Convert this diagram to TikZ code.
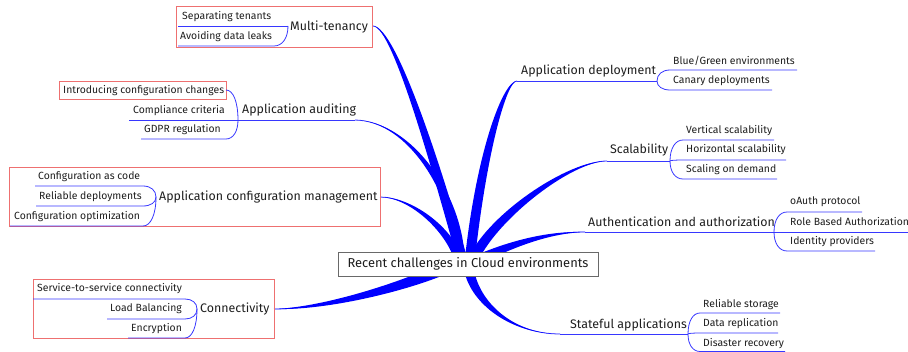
\documentclass[tikz,border=0pt]{standalone}
\usepackage{fontspec}
\setmainfont{Fira Sans}
\usetikzlibrary{calc}
\definecolor{edge}{RGB}{0,0,255}
\definecolor{twigblue}{RGB}{55,55,255}
\definecolor{frame}{RGB}{238,112,112}
\definecolor{rootframe}{RGB}{105,105,105}
\definecolor{ink}{RGB}{30,30,30}
\tikzset{
  twig/.style={draw=twigblue, line width=0.8pt},
  branch/.style={fill=edge},
  leaf/.style={anchor=west, inner sep=0pt, text=ink, font=\fontsize{10.4}{11}\selectfont},
  topic/.style={anchor=west, inner sep=0pt, text=ink, font=\fontsize{12.4}{13}\selectfont},
  group/.style={draw=frame, line width=0.7pt, inner sep=0pt},
  rootbox/.style={draw=rootframe, fill=white, line width=0.7pt, text=ink,
    minimum width=260pt, minimum height=24pt, inner sep=0pt, font=\fontsize{12.9}{14}\selectfont},
}
% tapered main branch: root point, first control, second control, end point, half width
\newcommand\mainbranch[5]{%
  \path #1 coordinate (tR) #2 coordinate (tA) #3 coordinate (tB) #4 coordinate (tE);
  \path ($(tR)!#5!90:(tA)$) coordinate (tP) ($(tR)!#5!-90:(tA)$) coordinate (tM);
  \draw[twig] (tR) .. controls (tA) and (tB) .. (tE);
  \fill[branch] (tP) .. controls ($(tA)+(tP)-(tR)$) and ($(tB)+0.35*(tP)-0.35*(tR)$) .. (tE)
     .. controls ($(tB)+0.35*(tM)-0.35*(tR)$) and ($(tA)+(tM)-(tR)$) .. (tM) -- cycle;
}
% thin child edge: junction, start of underline, far end of underline
\newcommand\twigto[3]{%
  \draw[twig] (#1) .. controls ($(#1)!0.6!(#1|-#2)$) and ($(#2)!0.6!(#1|-#2)$) .. (#2) -- (#3);
}
\begin{document}
\begin{tikzpicture}[x=1pt,y=-1pt]
\useasboundingbox (0,0) rectangle (908,352);

% ---------- main branches ----------
\coordinate (mt-e) at (373,26);
\coordinate (au-e) at (355,120);
\coordinate (acm-e) at (380,197);
\coordinate (co-e) at (274,309);
\coordinate (ad-e) at (517,81);
\coordinate (sc-e) at (607,161);
\coordinate (aa-e) at (585,232);
\coordinate (st-e) at (560,334);
\mainbranch{(462,258)}{(440,180)}{(395,26)}{(mt-e)}{5pt}
\mainbranch{(460,258)}{(458,195)}{(410,121)}{(au-e)}{4.5pt}
\mainbranch{(458,258)}{(448,228)}{(410,197)}{(acm-e)}{4pt}
\mainbranch{(458,262)}{(420,282)}{(330,309)}{(co-e)}{6pt}
\mainbranch{(470,258)}{(482,150)}{(505,81)}{(ad-e)}{5pt}
\mainbranch{(474,258)}{(495,215)}{(570,161)}{(sc-e)}{5pt}
\mainbranch{(476,260)}{(500,250)}{(540,232)}{(aa-e)}{4.5pt}
\mainbranch{(468,262)}{(470,300)}{(510,334)}{(st-e)}{5pt}

% ---------- root ----------
\node[rootbox] (root) at (468,264) {Recent challenges in Cloud environments};

% ---------- Multi-tenancy ----------
\node[group, minimum width=196pt, minimum height=41pt] (mt-box) at (274,26.5) {};
\node[topic] (mt) at (290,27) {Multi-tenancy};
\node[leaf] (mt1) at (182,16.5) {Separating tenants};
\node[leaf] (mt2) at (180,36.5) {Avoiding data leaks};
\coordinate (mt-j) at (288,26);
\coordinate (mt1-f) at (178,26);
\coordinate (mt2-u) at (274,46);
\coordinate (mt2-f) at (178,46);
\twigto{mt-j}{mt-j}{mt1-f}
\twigto{mt-j}{mt2-u}{mt2-f}

% ---------- Application auditing ----------
\node[topic] (au) at (242,110) {Application auditing};
\coordinate (au-j) at (238,120);
\draw[twig] (au-j) -- (au-e);
\node[group, minimum width=167pt, minimum height=18pt] (au1-box) at (142.5,90) {};
\node[leaf] (au1) at (63,90.5) {Introducing configuration changes};
\node[leaf] (au2) at (133,110.5) {Compliance criteria};
\node[leaf] (au3) at (144,129.5) {GDPR regulation};
\coordinate (au1-u) at (226,90);
\coordinate (au2-f) at (129,120);
\coordinate (au3-u) at (226,139);
\coordinate (au3-f) at (141,139);
\twigto{au-j}{au1-u}{au1-u}
\twigto{au-j}{au-j}{au2-f}
\twigto{au-j}{au3-u}{au3-f}

% ---------- Application configuration management ----------
\node[group, minimum width=371pt, minimum height=59pt] (acm-box) at (194.5,196.5) {};
\node[topic] (acm) at (159,197) {Application configuration management};
\node[leaf] (acm1) at (38,177) {Configuration as code};
\node[leaf] (acm2) at (39,197) {Reliable deployments};
\node[leaf] (acm3) at (14,217) {Configuration optimization};
\coordinate (acm-j) at (156,197);
\coordinate (acm1-u) at (143,186);
\coordinate (acm1-f) at (35,186);
\coordinate (acm2-u) at (143,206);
\coordinate (acm2-f) at (36,206);
\coordinate (acm3-u) at (143,226);
\coordinate (acm3-f) at (10,226);
\twigto{acm-j}{acm1-u}{acm1-f}
\twigto{acm-j}{acm2-u}{acm2-f}
\twigto{acm-j}{acm3-u}{acm3-f}

% ---------- Connectivity ----------
\node[group, minimum width=241pt, minimum height=59pt] (co-box) at (153.5,308.5) {};
\node[topic] (co) at (200,309) {Connectivity};
\node[leaf] (co1) at (37,289) {Service-to-service connectivity};
\node[leaf] (co2) at (110,309) {Load Balancing};
\node[leaf] (co3) at (131,329) {Encryption};
\coordinate (co-j) at (197,309);
\coordinate (co1-u) at (185,299);
\coordinate (co1-f) at (33,299);
\coordinate (co2-u) at (185,319);
\coordinate (co2-f) at (107,319);
\coordinate (co3-u) at (185,338);
\coordinate (co3-f) at (128,338);
\twigto{co-j}{co1-u}{co1-f}
\twigto{co-j}{co2-u}{co2-f}
\twigto{co-j}{co3-u}{co3-f}

% ---------- Application deployment ----------
\node[topic] (ad) at (521,71) {Application deployment};
\coordinate (ad-j) at (657,81);
\draw[twig] (ad-e) -- (ad-j);
\node[leaf] (ad1) at (673,61) {Blue/Green environments};
\node[leaf] (ad2) at (673,80.5) {Canary deployments};
\coordinate (ad1-u) at (670,70);
\coordinate (ad1-f) at (797,70);
\coordinate (ad2-u) at (670,90);
\coordinate (ad2-f) at (772,90);
\twigto{ad-j}{ad1-u}{ad1-f}
\twigto{ad-j}{ad2-u}{ad2-f}

% ---------- Scalability ----------
\node[topic] (sc) at (610,150) {Scalability};
\coordinate (sc-j) at (670,161);
\draw[twig] (sc-e) -- (sc-j);
\node[leaf] (sc1) at (686,131) {Vertical scalability};
\node[leaf] (sc2) at (686,150) {Horizontal scalability};
\node[leaf] (sc3) at (686,169.5) {Scaling on demand};
\coordinate (sc1-u) at (683,140);
\coordinate (sc1-f) at (774,140);
\coordinate (sc2-u) at (683,160);
\coordinate (sc2-f) at (786,160);
\coordinate (sc3-u) at (683,179);
\coordinate (sc3-f) at (777,179);
\twigto{sc-j}{sc1-u}{sc1-f}
\twigto{sc-j}{sc2-u}{sc2-f}
\twigto{sc-j}{sc3-u}{sc3-f}

% ---------- Authentication and authorization ----------
\node[topic] (aa) at (588,221.5) {Authentication and authorization};
\coordinate (aa-j) at (774,232);
\draw[twig] (aa-e) -- (aa-j);
\node[leaf] (aa1) at (790,202) {oAuth protocol};
\node[leaf] (aa2) at (790,222) {Role Based Authorization};
\node[leaf] (aa3) at (790,241.5) {Identity providers};
\coordinate (aa1-u) at (787,212);
\coordinate (aa1-f) at (862,212);
\coordinate (aa2-f) at (908,232);
\coordinate (aa3-u) at (787,251);
\coordinate (aa3-f) at (875,251);
\twigto{aa-j}{aa1-u}{aa1-f}
\twigto{aa-j}{aa-j}{aa2-f}
\twigto{aa-j}{aa3-u}{aa3-f}

% ---------- Stateful applications ----------
\node[topic] (st) at (570,324.5) {Stateful applications};
\coordinate (st-j) at (688,334);
\draw[twig] (st-e) -- (st-j);
\node[leaf] (st1) at (703,304.5) {Reliable storage};
\node[leaf] (st2) at (703,324) {Data replication};
\node[leaf] (st3) at (703,343.5) {Disaster recovery};
\coordinate (st1-u) at (700,313);
\coordinate (st1-f) at (780,313);
\coordinate (st2-u) at (700,333);
\coordinate (st2-f) at (778,333);
\coordinate (st3-u) at (700,351.5);
\coordinate (st3-f) at (785,351.5);
\twigto{st-j}{st1-u}{st1-f}
\twigto{st-j}{st2-u}{st2-f}
\twigto{st-j}{st3-u}{st3-f}
\end{tikzpicture}
\end{document}
